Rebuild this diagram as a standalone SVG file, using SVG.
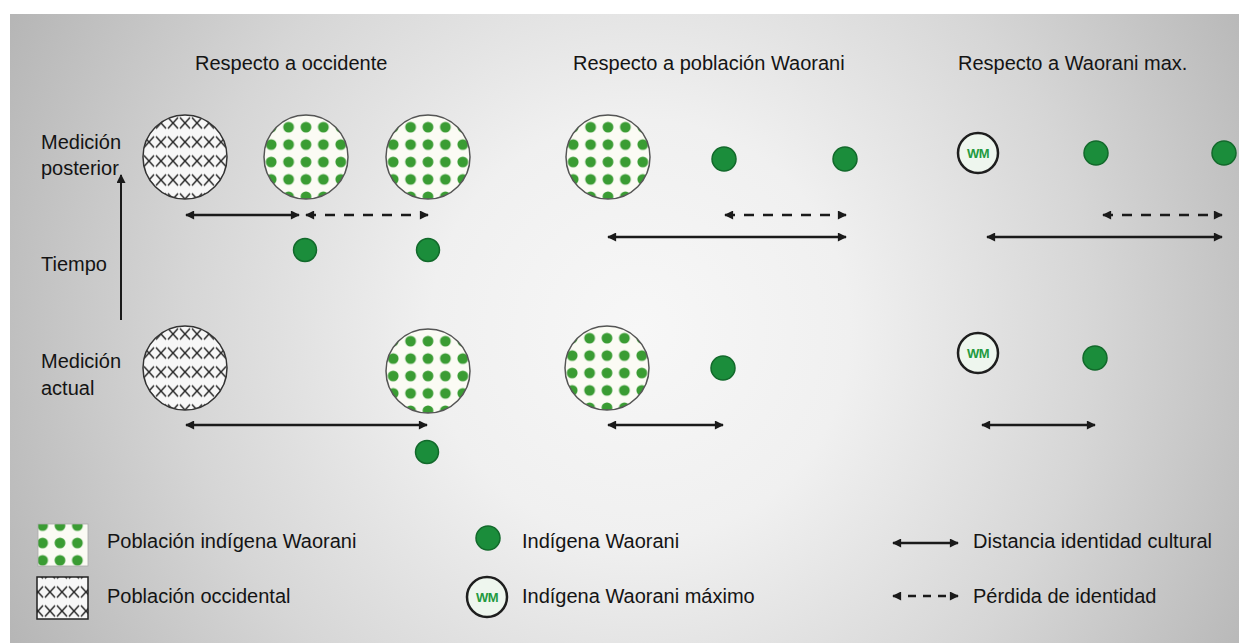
<svg xmlns="http://www.w3.org/2000/svg" width="1239" height="643" viewBox="0 0 1239 643">
<defs>
<radialGradient id="bg" gradientUnits="userSpaceOnUse" cx="640" cy="330" r="700">
<stop offset="0" stop-color="#f7f7f7"/>
<stop offset="0.3" stop-color="#f0f0f0"/>
<stop offset="0.65" stop-color="#d6d6d6"/>
<stop offset="1" stop-color="#b6b6b6"/>
</radialGradient>
<pattern id="dots" patternUnits="userSpaceOnUse" x="-8.7" y="-3.7" width="17.4" height="17.4">
<rect width="17.4" height="17.4" fill="#fbfbf4"/>
<circle cx="8.7" cy="8.7" r="5.4" fill="#3a9c33"/>
</pattern>
<pattern id="xx" patternUnits="userSpaceOnUse" x="-6" y="-5.5" width="12" height="19">
<rect width="12" height="19" fill="#f7f7f7"/>
<path d="M1,4 Q6,9.5 11,15 M11,4 Q6,9.5 1,15" fill="none" stroke="#222" stroke-width="1.4"/>
</pattern>
<marker id="ah" viewBox="0 0 10 10" refX="9" refY="5" markerWidth="10" markerHeight="9" markerUnits="userSpaceOnUse" orient="auto-start-reverse">
<path d="M0,0 L10,5 L0,10 z" fill="#1a1a1a"/>
</marker>
</defs>
<style>
text{font-family:"Liberation Sans",Arial,sans-serif;font-size:20px;fill:#141414}
.pop{fill:url(#dots);stroke:#555;stroke-width:1.5}
.occ{fill:url(#xx);stroke:#333;stroke-width:1.5}
.ind{fill:#1b8d3b;stroke:#12692b;stroke-width:1.5}
.wm{fill:#eef6ee;stroke:#1e1e1e;stroke-width:2.5}
.wmt{font-family:"Liberation Sans",Arial,sans-serif;font-size:13px;font-weight:bold;fill:#239a40;letter-spacing:-0.5px}
.sol{stroke:#1a1a1a;stroke-width:2.5;fill:none;marker-start:url(#ah);marker-end:url(#ah)}
.das{stroke:#1a1a1a;stroke-width:2.5;fill:none;stroke-dasharray:10 9;marker-start:url(#ah);marker-end:url(#ah)}
</style>
<rect x="0" y="0" width="1239" height="643" fill="#ffffff"/>
<rect x="10" y="14" width="1229" height="629" fill="url(#bg)"/>

<g id="titles">
<text x="195" y="70">Respecto a occidente</text>
<text x="573" y="70">Respecto a población Waorani</text>
<text x="958" y="70">Respecto a Waorani max.</text>
</g>
<g id="labels">
<text x="41" y="149">Medición</text>
<text x="41" y="175">posterior</text>
<text x="41" y="271">Tiempo</text>
<text x="41" y="368">Medición</text>
<text x="41" y="395">actual</text>
</g>

<g id="occ-post" transform="translate(185,157)"><circle class="occ" r="42"/></g>
<g id="pop-post-1" transform="translate(306,157)"><circle class="pop" r="42"/></g>
<g id="pop-post-2" transform="translate(428,157)"><circle class="pop" r="42"/></g>
<g id="ind-post-1"><circle class="ind" cx="305" cy="250" r="11.5"/></g>
<g id="ind-post-2"><circle class="ind" cx="428" cy="250" r="11.5"/></g>

<g id="occ-act" transform="translate(185,368)"><circle class="occ" r="42"/></g>
<g id="pop-act" transform="translate(428,371)"><circle class="pop" r="42"/></g>
<g id="ind-act"><circle class="ind" cx="427" cy="452" r="11.5"/></g>

<g id="popw-post" transform="translate(608,157)"><circle class="pop" r="42"/></g>
<g id="indw-post-1"><circle class="ind" cx="724" cy="159" r="12"/></g>
<g id="indw-post-2"><circle class="ind" cx="845" cy="159" r="12"/></g>
<g id="popw-act" transform="translate(607,368)"><circle class="pop" r="42"/></g>
<g id="indw-act"><circle class="ind" cx="723" cy="368" r="12"/></g>

<g id="wm-post"><circle class="wm" cx="978" cy="153" r="20"/><text class="wmt" x="978" y="158" text-anchor="middle">WM</text></g>
<g id="indm-post-1"><circle class="ind" cx="1096" cy="153" r="12"/></g>
<g id="indm-post-2"><circle class="ind" cx="1224" cy="153" r="12"/></g>
<g id="wm-act"><circle class="wm" cx="978" cy="353" r="20"/><text class="wmt" x="978" y="358" text-anchor="middle">WM</text></g>
<g id="indm-act"><circle class="ind" cx="1095" cy="358" r="12"/></g>

<g id="connectors">
<line x1="121" y1="320" x2="121" y2="175" stroke="#1a1a1a" stroke-width="2" marker-end="url(#ah)"/>
<line class="sol" x1="186" y1="215" x2="299" y2="215"/>
<line class="das" x1="306" y1="215" x2="428" y2="215"/>
<line class="sol" x1="186" y1="425" x2="427" y2="425"/>
<line class="das" x1="725" y1="215" x2="846" y2="215"/>
<line class="sol" x1="608" y1="237" x2="846" y2="237"/>
<line class="sol" x1="608" y1="425" x2="723" y2="425"/>
<line class="das" x1="1103" y1="215" x2="1222" y2="215"/>
<line class="sol" x1="987" y1="237" x2="1222" y2="237"/>
<line class="sol" x1="982" y1="425" x2="1095" y2="425"/>
</g>

<g id="legend">
<g id="leg-pop">
<g transform="translate(60,538)"><rect x="-22" y="-14" width="50" height="42" fill="url(#dots)" stroke="#aaa" stroke-width="0.8"/></g>
<text x="107" y="548">Población indígena Waorani</text>
</g>
<g id="leg-occ">
<g transform="translate(62,588)"><rect x="-25" y="-11" width="51" height="42" fill="url(#xx)" stroke="#222" stroke-width="1.5"/></g>
<text x="107" y="603">Población occidental</text>
</g>
<g id="leg-ind">
<circle class="ind" cx="488" cy="538" r="12"/>
<text x="522" y="548">Indígena Waorani</text>
</g>
<g id="leg-wm">
<circle class="wm" cx="487" cy="597" r="20"/><text class="wmt" x="487" y="602" text-anchor="middle">WM</text>
<text x="522" y="603">Indígena Waorani máximo</text>
</g>
<g id="leg-sol">
<line class="sol" x1="893" y1="543" x2="958" y2="543"/>
<text x="973" y="548">Distancia identidad cultural</text>
</g>
<g id="leg-das">
<line class="das" x1="893" y1="596" x2="958" y2="596" style="stroke-dasharray:8 7"/>
<text x="973" y="603">Pérdida de identidad</text>
</g>
</g>
</svg>
